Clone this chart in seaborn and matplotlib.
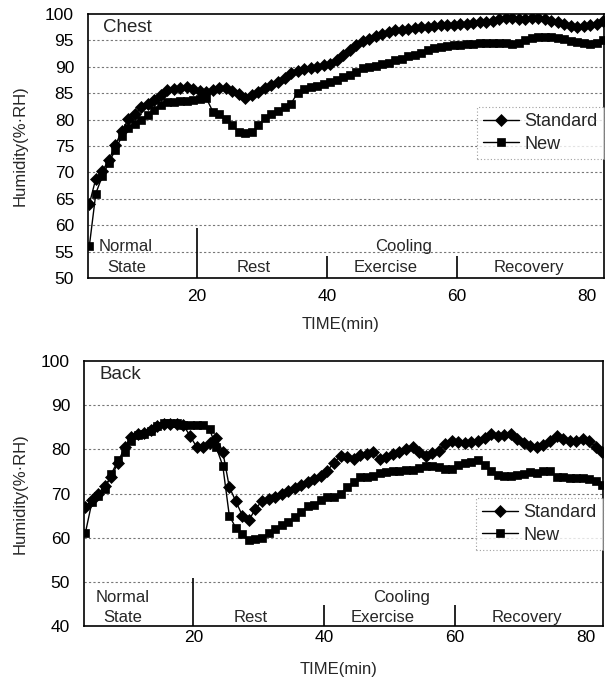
import numpy as np
import pandas as pd
import matplotlib
matplotlib.use("Agg")
import matplotlib.pyplot as plt
import seaborn as sns

sns.set_theme(style="white")
plt.rcParams['font.family'] = ['Liberation Sans', 'DejaVu Sans']

# time axis (min)
time = [3.5 + i for i in range(80)]

chest_standard = [64.0, 68.8, 70.3, 72.3, 75.2, 77.8, 80.1, 81.0, 82.3, 83.0,
                  83.7, 84.7, 85.7, 85.8, 86.0, 86.1, 85.8, 85.5, 85.3, 85.6,
                  85.9, 86.0, 85.5, 84.8, 84.0, 84.6, 85.2, 85.9, 86.5, 87.2,
                  87.9, 88.9, 89.2, 89.5, 89.8, 90.0, 90.3, 90.6, 91.3, 92.3,
                  93.2, 94.1, 94.8, 95.3, 95.8, 96.2, 96.6, 96.9, 97.0, 97.2,
                  97.4, 97.5, 97.6, 97.8, 97.9, 98.0, 98.0, 98.1, 98.2, 98.3,
                  98.4, 98.5, 98.7, 99.0, 99.2, 99.2, 99.1, 99.1, 99.2, 99.2,
                  99.0, 98.7, 98.4, 98.1, 97.8, 97.6, 97.7, 97.9, 98.2, 98.6]

chest_new = [56.0, 66.0, 69.3, 71.8, 74.3, 76.8, 78.4, 79.2, 80.0, 80.9,
             81.8, 82.7, 83.3, 83.4, 83.5, 83.6, 83.8, 83.9, 84.0, 81.5,
             81.0, 80.2, 79.0, 77.6, 77.5, 77.6, 79.0, 80.3, 81.0, 81.6,
             82.3, 83.0, 85.1, 85.8, 86.1, 86.4, 86.8, 87.2, 87.5, 88.0,
             88.4, 89.1, 89.7, 90.0, 90.2, 90.5, 90.8, 91.2, 91.5, 92.0,
             92.3, 92.7, 93.1, 93.5, 93.8, 94.0, 94.1, 94.2, 94.3, 94.4,
             94.5, 94.6, 94.6, 94.6, 94.5, 94.4, 94.6, 95.0, 95.4, 95.7,
             95.7, 95.6, 95.4, 95.2, 94.9, 94.7, 94.5, 94.3, 94.5, 95.0]

back_standard = [67.0, 68.5, 70.0, 71.8, 73.8, 77.0, 80.5, 82.8, 83.5, 83.8,
                 84.4, 85.3, 85.8, 85.8, 85.7, 85.5, 83.0, 80.6, 80.6, 81.5,
                 82.6, 79.5, 71.5, 68.2, 65.0, 64.0, 66.5, 68.3, 68.8, 69.2,
                 69.8, 70.5, 71.2, 72.0, 72.6, 73.2, 74.0, 75.2, 77.0, 78.5,
                 78.2, 77.8, 78.7, 79.0, 79.3, 77.9, 78.3, 79.0, 79.5, 80.0,
                 80.5, 79.5, 78.6, 79.2, 79.6, 81.3, 81.8, 81.6, 81.5, 81.7,
                 81.9, 82.5, 83.4, 83.1, 83.2, 83.4, 82.3, 81.5, 80.7, 80.5,
                 81.0, 81.8, 83.0, 82.4, 81.9, 82.0, 82.3, 81.8, 80.6, 79.5]

back_new = [61.0, 68.0, 69.5, 71.0, 74.5, 77.5, 79.5, 82.0, 83.2, 83.5,
            84.2, 85.2, 85.9, 86.0, 86.0, 85.6, 85.5, 85.5, 85.5, 84.5,
            80.5, 76.3, 65.0, 62.2, 60.8, 59.5, 59.6, 60.0, 61.0, 61.9,
            62.8, 63.6, 64.6, 65.8, 67.2, 67.5, 68.5, 69.1, 69.1, 70.0,
            71.4, 72.5, 73.8, 73.7, 74.0, 74.7, 74.9, 75.0, 75.1, 75.3,
            75.4, 75.8, 76.3, 76.2, 76.0, 75.5, 75.6, 76.5, 76.9, 77.1,
            77.5, 76.5, 75.0, 74.2, 74.0, 74.0, 74.2, 74.5, 74.8, 74.6,
            75.0, 75.2, 73.8, 73.7, 73.6, 73.6, 73.5, 73.3, 72.8, 72.0]

series_names = ["Standard", "New"]
phase_bounds = [20, 40, 60]
x_ticks = [20, 40, 60, 80]

fig = plt.figure(figsize=(6.05, 6.86), dpi=100)
ax1 = fig.add_axes([88/605, 1-278/686, 516/605, 264/686])
ax2 = fig.add_axes([84/605, 1-626/686, 519/605, 265/686])

def draw(ax, std, new, ylim, yticks, title, phase_y, txt_hi, txt_lo, leg_anchor,
         xlab_y, ylab_x, xpad):
    df = pd.DataFrame({"time": time * 2,
                       "value": std + new,
                       "series": [series_names[0]] * len(std) + [series_names[1]] * len(new)})
    sns.lineplot(data=df[df.series == "Standard"], x="time", y="value", ax=ax,
                 color="black", marker="D", markersize=6.3, markeredgecolor="black",
                 markeredgewidth=0.5, linewidth=1.0, label="Standard")
    sns.lineplot(data=df[df.series == "New"], x="time", y="value", ax=ax,
                 color="black", marker="s", markersize=6.3, markeredgecolor="black",
                 markeredgewidth=0.5, linewidth=1.0, label="New")
    ax.set_xlim(3.3, 82.6)
    ax.set_ylim(*ylim)
    ax.set_yticks(yticks)
    ax.set_xticks(x_ticks)
    ax.tick_params(axis="both", length=0, labelsize=12.5, colors="black")
    ax.tick_params(axis="y", pad=10)
    ax.tick_params(axis="x", pad=xpad)
    for yt in yticks[1:-1]:
        ax.axhline(yt, color="#777777", linestyle=(0, (2, 2)), linewidth=0.8, zorder=0)
    for sp in ax.spines.values():
        sp.set_color("black")
        sp.set_linewidth(1.2)
    ax.set_xlabel("TIME(min)", fontsize=12)
    ax.set_ylabel("Humidity(%·RH)", fontsize=12)
    ax.xaxis.set_label_coords(0.49, xlab_y)
    ax.yaxis.set_label_coords(ylab_x, 0.5)
    ax.text(0.03, 0.95, title, transform=ax.transAxes, fontsize=13.5, va="center", ha="left")
    # phase separators
    ax.vlines(phase_bounds[0], ylim[0], phase_y[0], color="black", linewidth=1.2)
    ax.vlines(phase_bounds[1:], ylim[0], phase_y[1], color="black", linewidth=1.2)
    ax.text(5.0, txt_hi, "Normal", fontsize=12, ha="left", va="center")
    ax.text(9.2, txt_lo, "State", fontsize=12, ha="center", va="center")
    ax.text(28.7, txt_lo, "Rest", fontsize=12, ha="center", va="center")
    ax.text(51.8, txt_hi, "Cooling", fontsize=12, ha="center", va="center")
    ax.text(49.0, txt_lo, "Exercise", fontsize=12, ha="center", va="center")
    ax.text(71.0, txt_lo, "Recovery", fontsize=12, ha="center", va="center")
    leg = ax.legend(loc="upper right", bbox_to_anchor=leg_anchor, fontsize=13,
                    frameon=True, fancybox=False, handlelength=2.0, handletextpad=0.3,
                    borderpad=0.35, labelspacing=0.3, borderaxespad=0)
    fr = leg.get_frame()
    fr.set_edgecolor("#888888")
    fr.set_linestyle((0, (1, 2)))
    fr.set_linewidth(0.8)

draw(ax1, chest_standard, chest_new, (50, 100), list(range(50, 101, 5)), "Chest",
     (59.5, 54.2), 55.9, 51.9, (1.0, 0.648), -0.148, -0.117, 8)
draw(ax2, back_standard, back_new, (40, 100), list(range(40, 101, 10)), "Back",
     (50.8, 44.7), 46.5, 42.0, (1.0, 0.483), -0.135, -0.108, 3)

fig.savefig("out.png", dpi=100)
